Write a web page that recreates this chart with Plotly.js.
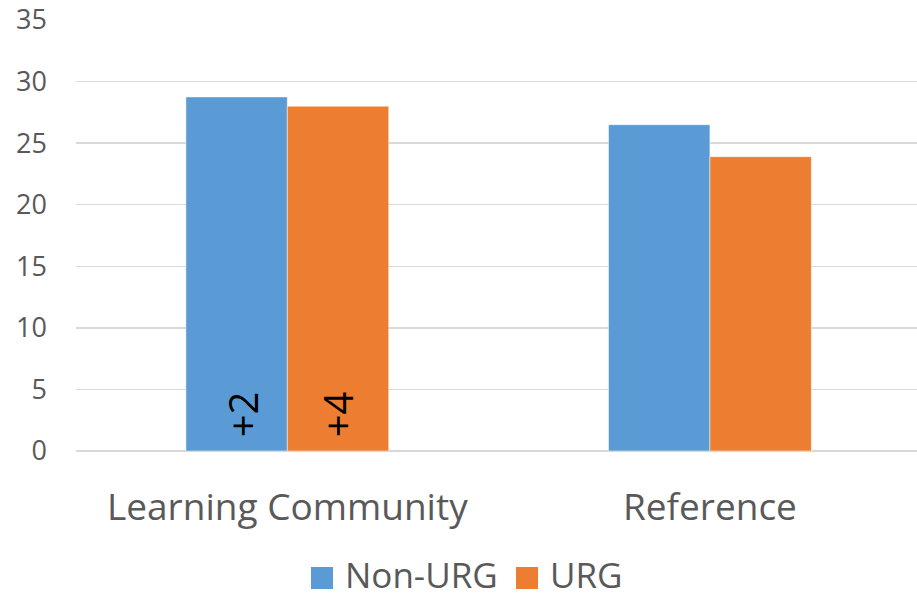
<!DOCTYPE html>
<html>
<head>
<meta charset="utf-8">
<script src="https://cdn.plot.ly/plotly-3.0.1.min.js"></script>
<style>html,body{margin:0;padding:0;background:#fff;}</style>
</head>
<body>
<div id="chart" style="width:917px;height:598px;"></div>
<script>
const categories = ["Learning Community", "Reference"];
const nonUrg = [28.75, 26.5];
const urg = [28.0, 23.9];
const seriesNames = ["Non-URG", "URG"];
const seriesColors = ["#5b9bd5", "#ed7d31"];
const changeLabels = ["+2", "+4"];
const yTicks = [0, 5, 10, 15, 20, 25, 30, 35];

const FONT = "Open Sans, Noto Sans, sans-serif";
const W = 917, H = 598, ML = 76, MR = 0, MT = 20, MB = 147;
const PW = W - ML - MR, PH = H - MT - MB;
const px2x = p => (p - ML) / PW;
const px2y = p => (H - MB - p) / PH;

const traces = [nonUrg, urg].map((vals, i) => ({
  type: "bar", name: seriesNames[i], x: categories, y: vals,
  marker: {color: seriesColors[i], line: {color: "#ffffff", width: 0.5}},
  showlegend: false
}));

// custom legend (larger swatches, as in the reference)
const legendSwatchX = [311, 516];
const legendCenterY = 578;
const shapes = seriesNames.map((n, i) => ({
  type: "rect", xref: "paper", yref: "paper",
  x0: px2x(legendSwatchX[i]), x1: px2x(legendSwatchX[i] + 22),
  y0: px2y(legendCenterY - 11), y1: px2y(legendCenterY + 11),
  fillcolor: seriesColors[i], line: {width: 0}
}));
const legendTexts = seriesNames.map((n, i) => ({
  text: n, xref: "paper", yref: "paper",
  x: px2x(legendSwatchX[i] + 33), y: px2y(legendCenterY - 4),
  xanchor: "left", yanchor: "middle", showarrow: false, borderpad: 0,
  font: {size: 35, color: "#595959", family: FONT}
}));

const layout = {
  width: W, height: H,
  margin: {l: ML, r: MR, t: MT, b: MB, autoexpand: false},
  paper_bgcolor: "#fff", plot_bgcolor: "#fff",
  barmode: "group", bargap: 0.52, bargroupgap: 0,
  font: {family: FONT, color: "#595959"},
  showlegend: false,
  xaxis: {
    type: "category", range: [-0.5, 1.49], automargin: false,
    showgrid: false, zeroline: false, showline: false, ticks: "",
    tickfont: {size: 37, color: "#595959", family: FONT},
    ticklabelstandoff: 31
  },
  yaxis: {
    range: [0, 35], tickvals: yTicks, ticktext: yTicks.map(String), automargin: false,
    showgrid: true, gridcolor: "#d9d9d9", gridwidth: 1.3,
    zeroline: true, zerolinecolor: "#d9d9d9", zerolinewidth: 1.3,
    showline: false, ticks: "",
    tickfont: {size: 27, color: "#595959", family: FONT},
    ticklabelstandoff: 28
  },
  shapes: shapes,
  annotations: changeLabels.map((t, i) => ({
    text: t, x: categories[0], y: 3.0, xref: "x", yref: "y",
    xshift: i === 0 ? -45 : 50, textangle: -90, showarrow: false,
    font: {size: 40, color: "#000000", family: FONT}
  })).concat(legendTexts)
};

Plotly.newPlot("chart", traces, layout, {displayModeBar: false, staticPlot: true});
</script>
</body>
</html>
